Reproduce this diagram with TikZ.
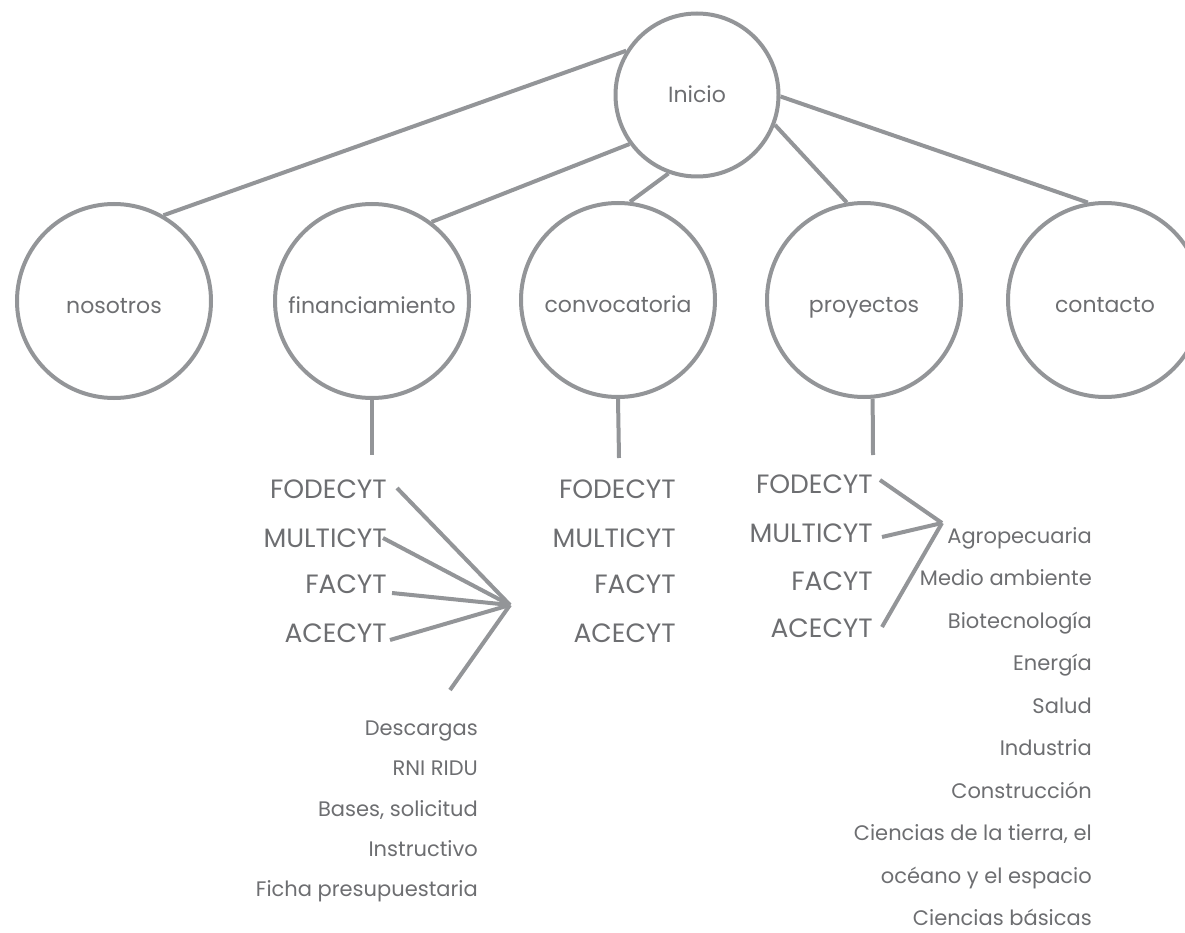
\documentclass[tikz,border=0pt]{standalone}
\usepackage{fontspec}
\setmainfont{Poppins}
\usetikzlibrary{calc}
\definecolor{linegray}{HTML}{939598}
\definecolor{textgray}{HTML}{6D6E71}
\tikzset{
  bubble/.style={circle,draw=linegray,line width=4pt,minimum size=194pt,inner sep=0pt,
    text=textgray,font=\fontsize{22}{26}\selectfont,text height=24pt,text depth=0pt},
  topbubble/.style={bubble,minimum size=163pt,text height=16pt},
  link/.style={draw=linegray,line width=4pt},
  item/.style={anchor=base east,inner sep=0pt,text=textgray,font=\fontsize{26.5}{30}\selectfont},
  subitem/.style={item,font=\fontsize{21}{25}\selectfont},
}
\begin{document}
\begin{tikzpicture}[x=1pt,y=-1pt]
\useasboundingbox (0,0) rectangle (1185,933);
\clip (0,0) rectangle (1185,933);
% main nodes
\node[topbubble] (ini) at (697,95) {Inicio};
\node[bubble] (nos) at (114,301) {nosotros};
\node[bubble] (fin) at (372,301) {financiamiento};
\node[bubble] (conv) at (618,300) {convocatoria};
\node[bubble] (proy) at (864,300) {proyectos};
\node[bubble] (cont) at (1105,300) {contacto};
\draw[link] (ini.148) -- (nos.60);
\draw[link] (ini.-144) -- (fin.53);
\draw[link] (ini.-110) -- (conv.83);
\draw[link] (ini.-21) -- (proy.100);
\draw[link] (ini.-1) -- (cont.100);
% stems
\coordinate (finstem) at (372,455);
\coordinate (convstem) at (619,458);
\coordinate (proystem) at (873,455);
\draw[link] (fin.south) -- (finstem);
\draw[link] (conv.south) -- (convstem);
\draw[link] (proy.-85) -- (proystem);
% financiamiento list
\node[item] (f1) at (387,498) {FODECYT};
\node[item] (f2) at (387,547) {MULTICYT};
\node[item] (f3) at (387,593) {FACYT};
\node[item] (f4) at (387,642) {ACECYT};
\coordinate (fhub) at (510,605);
\coordinate (fdown) at (450,690);
\draw[link] ($(f1.base east)+(10,-10)$) -- (fhub);
\draw[link] ($(f2.base east)+(-4,-9)$) -- (fhub);
\draw[link] ($(f3.base east)+(5,0)$) -- (fhub);
\draw[link] ($(f4.base east)+(3,-2)$) -- (fhub);
\draw[link] (fhub) -- (fdown);
\node[subitem] (d1) at (478,735) {Descargas};
\node[subitem] (d2) at (478,775.5) {RNI RIDU};
\node[subitem] (d3) at (478,816) {Bases, solicitud};
\node[subitem] (d4) at (478,856.5) {Instructivo};
\node[subitem] (d5) at (478,896) {Ficha presupuestaria};
% convocatoria list
\node[item] (c1) at (676,498) {FODECYT};
\node[item] (c2) at (676,547) {MULTICYT};
\node[item] (c3) at (676,593) {FACYT};
\node[item] (c4) at (676,642) {ACECYT};
% proyectos list
\node[item] (p1) at (873,493) {FODECYT};
\node[item] (p2) at (873,542) {MULTICYT};
\node[item] (p3) at (873,590) {FACYT};
\node[item] (p4) at (873,637) {ACECYT};
\coordinate (phub) at (942,523);
\draw[link] ($(p1.base east)+(7,-13)$) -- (phub);
\draw[link] ($(p2.base east)+(9,-5)$) -- (phub);
\draw[link] ($(p4.base east)+(9,-10)$) -- (phub);
% areas
\node[subitem] (a1) at (1092,543) {Agropecuaria};
\node[subitem] (a2) at (1092,585.5) {Medio ambiente};
\node[subitem] (a3) at (1092,628) {Biotecnología};
\node[subitem] (a4) at (1092,670.5) {Energía};
\node[subitem] (a5) at (1092,713) {Salud};
\node[subitem] (a6) at (1092,755.5) {Industria};
\node[subitem] (a7) at (1092,798) {Construcción};
\node[subitem] (a8) at (1092,840.5) {Ciencias de la tierra, el};
\node[subitem] (a9) at (1092,883) {océano y el espacio};
\node[subitem] (a10) at (1092,925.5) {Ciencias básicas};
\end{tikzpicture}
\end{document}
